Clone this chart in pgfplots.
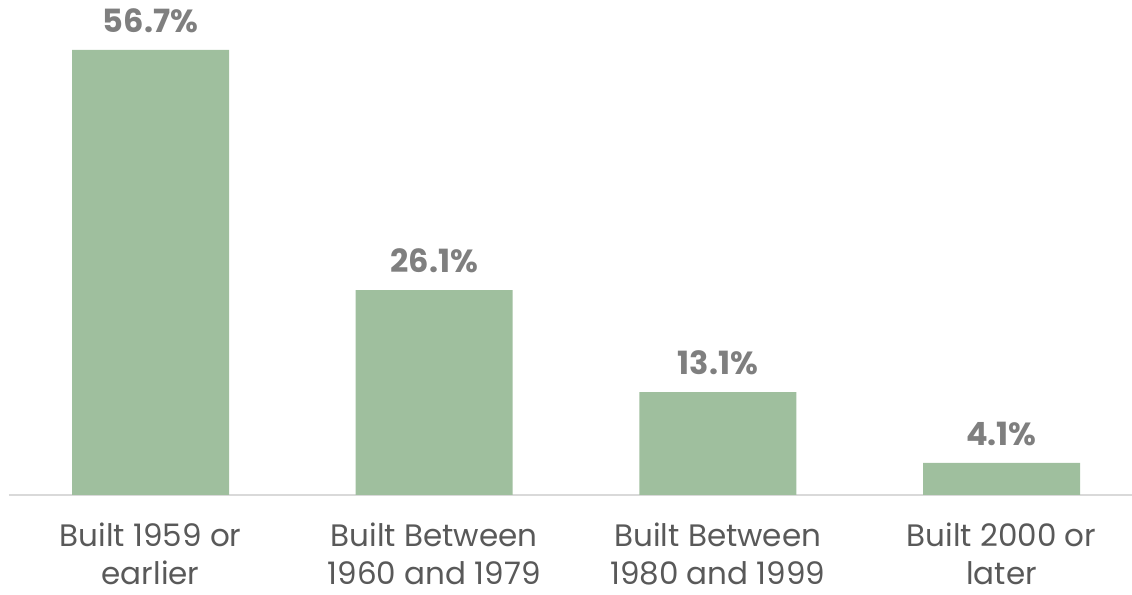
\documentclass[border=0pt]{standalone}
\usepackage{fontspec}
\setmainfont{Poppins}
\usepackage{pgfplots}
\pgfplotsset{compat=1.18}
\definecolor{barg}{HTML}{9FBF9E}
\definecolor{lblg}{HTML}{7F7F7F}
\definecolor{tickg}{HTML}{595959}
\definecolor{axg}{HTML}{D9D9D9}
\begin{document}
\begin{tikzpicture}
\begin{axis}[
  scale only axis,
  width=561.5pt, height=235.5pt,
  xmin=-0.499, xmax=3.46,
  ymin=0, ymax=60,
  axis x line*=bottom,
  axis y line=none,
  x axis line style={draw=axg, line width=0.8pt, -},
  xtick={0,1,2,3},
  xticklabels={Built 1959 or\\earlier, Built Between\\1960 and 1979, Built Between\\1980 and 1999, Built 2000 or\\later},
  major tick length=0pt,
  xticklabel style={align=center, font=\fontsize{15.5}{19}\selectfont, text=tickg, inner sep=0pt, yshift=-14pt},
  /pgf/number format/assume math mode=true,
  ybar, bar width=78.5pt,
  nodes near coords={\pgfmathprintnumber[fixed, fixed zerofill, precision=1]{\pgfplotspointmeta}\%},
  nodes near coords style={font=\fontsize{16}{17}\bfseries\selectfont, text=lblg, yshift=5pt},
  clip=false,
]
\addplot[fill=barg, draw=none] coordinates {(0,56.7) (1,26.1) (2,13.1) (3,4.1)};
\end{axis}
\pgfresetboundingbox
\path ([xshift=-4.5pt, yshift=-50pt]current axis.south west) rectangle ([yshift=12pt]current axis.north east);
\end{tikzpicture}
\end{document}
